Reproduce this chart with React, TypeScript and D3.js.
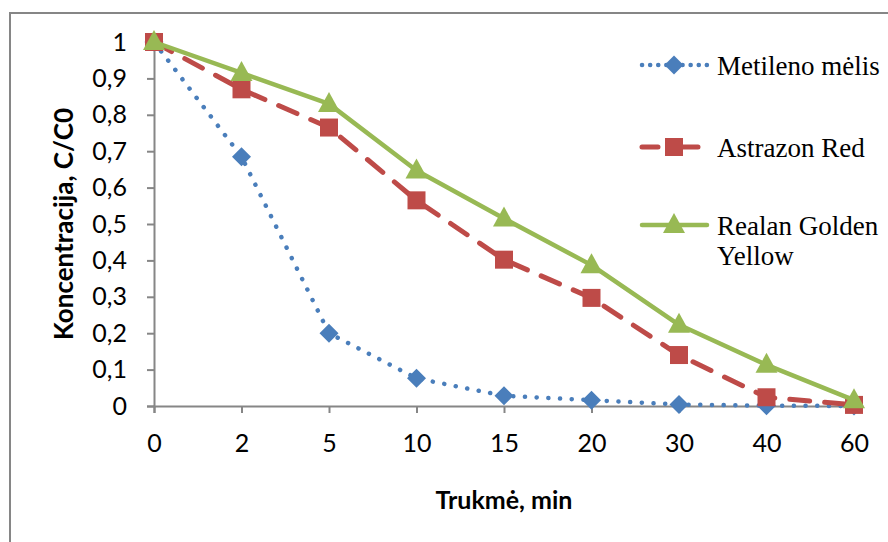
import React, { useEffect, useRef } from 'react';
import * as d3 from 'd3';

const categories = ['0', '2', '5', '10', '15', '20', '30', '40', '60'];
const metileno = [1, 0.685, 0.2, 0.076, 0.028, 0.016, 0.004, 0.001, 0];
const astrazon = [1, 0.87, 0.765, 0.565, 0.402, 0.297, 0.14, 0.024, 0.003];
const realan = [1, 0.915, 0.83, 0.647, 0.515, 0.387, 0.223, 0.113, 0.016];
const yTicks = [0, 0.1, 0.2, 0.3, 0.4, 0.5, 0.6, 0.7, 0.8, 0.9, 1];
const seriesNames = ['Metileno mėlis', 'Astrazon Red', 'Realan Golden Yellow'];

const width = 888;
const height = 542;
const axisColor = '#868686';

export default function App() {
  const ref = useRef<SVGSVGElement>(null);

  useEffect(() => {
    const svg = d3.select(ref.current);
    svg.selectAll('*').remove();

    const x = d3.scalePoint().domain(categories).range([154, 854]).padding(0);
    const y = d3.scaleLinear().domain([0, 1]).range([406, 42]);

    // outer frame
    svg.append('rect')
      .attr('x', 10).attr('y', 13)
      .attr('width', 900).attr('height', 560)
      .attr('fill', 'none').attr('stroke', axisColor).attr('stroke-width', 2);

    // y axis
    const yAxis = d3.axisLeft(y).tickValues(yTicks).tickSize(7).tickPadding(20)
      .tickFormat(d => (d === 0 || d === 1 ? String(d) : d3.format('.1f')(d as number).replace('.', ',')));
    const gy = svg.append('g').attr('transform', 'translate(154,0)').call(yAxis);
    gy.select('.domain').attr('stroke', axisColor).attr('stroke-width', 2);
    gy.selectAll('.tick line').attr('stroke', axisColor).attr('stroke-width', 2);
    gy.selectAll('.tick text')
      .attr('font-family', 'Lato, sans-serif').attr('font-size', 25).attr('fill', '#000');

    // x axis
    const xAxis = d3.axisBottom(x).tickSize(7).tickPadding(21);
    const gx = svg.append('g').attr('transform', 'translate(0,406)').call(xAxis);
    gx.select('.domain').attr('stroke', axisColor).attr('stroke-width', 2);
    gx.selectAll('.tick line').attr('stroke', axisColor).attr('stroke-width', 2);
    gx.selectAll('.tick text')
      .attr('font-family', 'Lato, sans-serif').attr('font-size', 25).attr('fill', '#000');

    // axis titles
    svg.append('text')
      .attr('x', 504).attr('y', 509).attr('text-anchor', 'middle')
      .attr('font-family', 'Lato, sans-serif').attr('font-weight', 'bold').attr('font-size', 25)
      .text('Trukmė, min');
    svg.append('text')
      .attr('transform', 'translate(73,224) rotate(-90)').attr('text-anchor', 'middle')
      .attr('font-family', 'Lato, sans-serif').attr('font-weight', 'bold').attr('font-size', 26)
      .text('Koncentracija, C/C0');

    const series = [
      { name: seriesNames[0], values: metileno, color: '#4A7EBB', dash: '0.1 11.6', w: 4.5, marker: 'diamond' },
      { name: seriesNames[1], values: astrazon, color: '#BE4B48', dash: '20 15', w: 5, marker: 'square' },
      { name: seriesNames[2], values: realan, color: '#98B954', dash: null, w: 4.5, marker: 'triangle' },
    ];

    const markerPath = (m: string) => {
      if (m === 'diamond') return 'M0,-9.5L9.5,0L0,9.5L-9.5,0Z';
      if (m === 'square') return 'M-9,-9L9,-9L9,9L-9,9Z';
      return 'M0,-12L11,8L-11,8Z';
    };

    const line = d3.line<number>().x((_, i) => x(categories[i]) as number).y(d => y(d));

    series.forEach(s => {
      svg.append('path')
        .attr('d', line(s.values))
        .attr('fill', 'none').attr('stroke', s.color).attr('stroke-width', s.w)
        .attr('stroke-linecap', 'round').attr('stroke-linejoin', 'round')
        .attr('stroke-dasharray', s.dash);
      svg.append('g').selectAll('path').data(s.values).join('path')
        .attr('d', markerPath(s.marker))
        .attr('transform', (d, i) => `translate(${x(categories[i])},${y(d)})`)
        .attr('fill', s.color);
    });

    // legend
    const legendRows = [65, 147, 225];
    series.forEach((s, i) => {
      const g = svg.append('g').attr('transform', `translate(0,${legendRows[i]})`);
      g.append('line')
        .attr('x1', 642).attr('x2', 707).attr('y1', 0).attr('y2', 0)
        .attr('stroke', s.color).attr('stroke-width', s.w)
        .attr('stroke-linecap', 'round')
        .attr('stroke-dasharray', s.marker === 'diamond' ? '0.1 8' : s.marker === 'square' ? '16 24' : null);
      g.append('path').attr('d', markerPath(s.marker)).attr('transform', 'translate(674,0)').attr('fill', s.color);
      const t = g.append('text')
        .attr('x', 717).attr('y', 10)
        .attr('font-family', '"Liberation Serif", "Times New Roman", serif').attr('font-size', 27);
      if (i === 2) {
        t.append('tspan').attr('x', 717).text('Realan Golden');
        t.append('tspan').attr('x', 717).attr('dy', 30).text('Yellow');
      } else {
        t.text(s.name);
      }
    });
  }, []);

  return <svg ref={ref} width={width} height={height} style={{ position: 'absolute', left: 0, top: 0, background: '#fff' }} />;
}
